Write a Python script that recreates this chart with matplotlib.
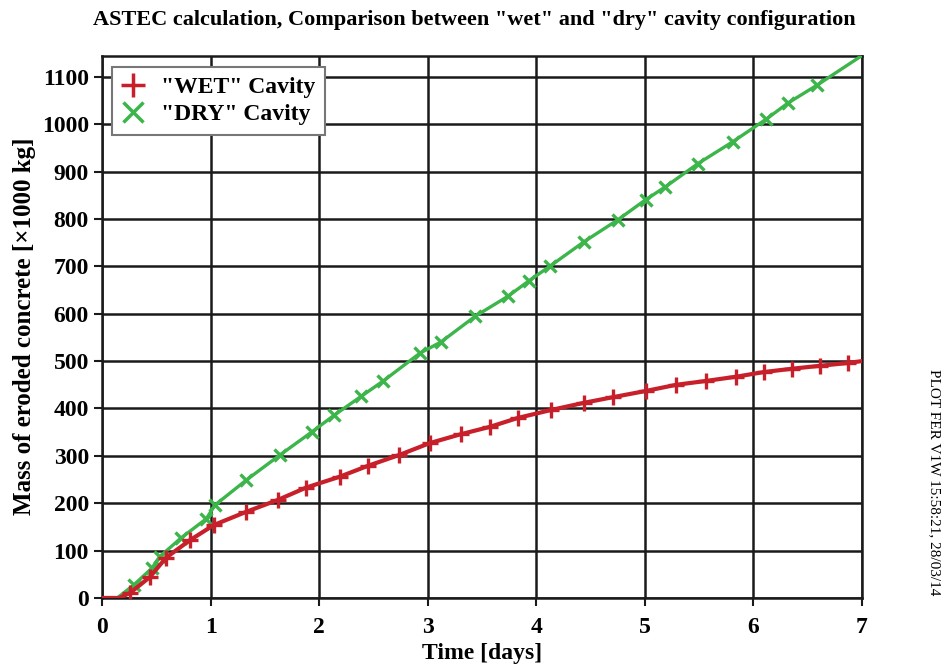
import matplotlib.pyplot as plt
from matplotlib.lines import Line2D

plt.rcParams['font.family'] = ['Liberation Serif', 'DejaVu Serif']
plt.rcParams['font.weight'] = 'bold'

# eroded concrete mass [x1000 kg] vs time [days]
wet_t = [0.0, 0.16, 0.26, 0.44, 0.59, 0.81, 1.03, 1.33, 1.62, 1.88, 2.19, 2.45,
         2.74, 3.02, 3.31, 3.57, 3.83, 4.14, 4.44, 4.71, 5.01, 5.29, 5.56,
         5.84, 6.10, 6.36, 6.61, 6.87, 7.0]
wet_m = [0, 0, 11, 44, 85, 122, 154, 182, 207, 233, 256, 279,
         302, 327, 346, 361, 380, 397, 412, 424, 437, 450, 458,
         467, 477, 484, 490, 496, 500]

dry_t = [0.0, 0.14, 0.29, 0.46, 0.53, 0.73, 0.96, 1.04, 1.33, 1.64, 1.93, 2.14,
         2.39, 2.59, 2.93, 3.12, 3.44, 3.74, 3.93, 4.13, 4.44, 4.75, 5.01,
         5.19, 5.49, 5.81, 6.12, 6.32, 6.59, 7.0]
dry_m = [0, 0, 27, 63, 87, 127, 167, 196, 249, 302, 350, 386,
         426, 458, 517, 540, 595, 637, 669, 701, 752, 798, 841,
         868, 917, 963, 1011, 1045, 1083, 1145]

red = '#c8202a'
green = '#3cb54a'

fig = plt.figure(figsize=(9.49, 6.65), dpi=100)
ax = fig.add_axes([0.1075, 0.1008, 0.8008, 0.8157])

ax.plot(wet_t, wet_m, color=red, lw=3.0, marker='+', ms=11, mew=2.4,
        markevery=slice(2, len(wet_t) - 1), zorder=4)
ax.plot(dry_t, dry_m, color=green, lw=2.4, marker='x', ms=9, mew=2.4,
        markevery=slice(2, len(dry_t) - 1), zorder=3)

ax.set_xlim(0, 7)
ax.set_ylim(0, 1145)
ax.set_xticks(range(0, 8))
ax.set_yticks(range(0, 1101, 100))
ax.grid(True, color='#1a1a1a', lw=1.8)
ax.set_axisbelow(True)
for s in ax.spines.values():
    s.set_color('#1a1a1a')
    s.set_linewidth(1.8)
ax.tick_params(labelsize=17, length=6, width=1.5, color='#1a1a1a', direction='out')
ax.tick_params(axis='x', pad=8)

ax.set_xlabel('Time [days]', fontsize=17, fontweight='bold', labelpad=3)
ax.set_ylabel('Mass of eroded concrete [\u00d71000 kg]', fontsize=18,
              fontweight='bold', labelpad=4)
fig.text(0.5, 0.97, 'ASTEC calculation, Comparison between "wet" and "dry" cavity configuration',
         ha='center', va='center', fontsize=16, fontweight='bold')
fig.text(0.985, 0.445, 'PLOT FER V1W 15:58:21, 28/03/14', rotation=-90,
         ha='center', va='top', fontsize=11, fontweight='normal')

# legend shows marker symbols only
handles = [Line2D([], [], ls='none', marker='+', ms=17, mew=2.5, color=red),
           Line2D([], [], ls='none', marker='x', ms=14, mew=2.5, color=green)]
leg = ax.legend(handles, ['"WET" Cavity', '"DRY" Cavity'], loc='upper left',
                bbox_to_anchor=(0.013, 0.979), borderaxespad=0, fontsize=17,
                fancybox=False, framealpha=1, edgecolor='#777777',
                handlelength=1.0, handletextpad=0.7, borderpad=0.4,
                labelspacing=0.25)
leg.get_frame().set_linewidth(1.5)

fig.savefig('out.png', dpi=100)
